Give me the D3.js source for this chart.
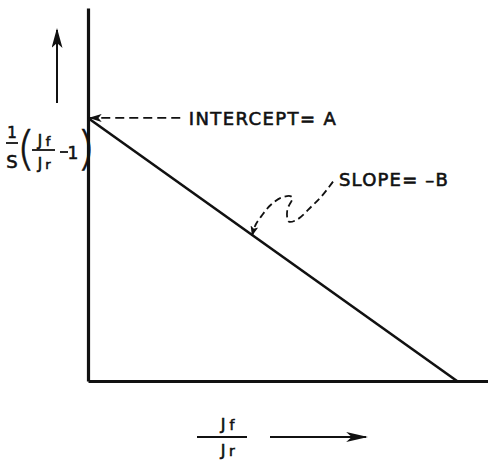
<!DOCTYPE html>
<html>
<head>
<meta charset="utf-8">
<script src="https://cdn.jsdelivr.net/npm/d3@7"></script>
<style>
  html, body { margin: 0; padding: 0; background: #fff; }
  svg { display: block; }
  text { font-family: "DejaVu Sans", sans-serif; fill: #111; stroke: #111; stroke-width: 0.6; }
</style>
</head>
<body>
<svg id="chart" width="488" height="461"></svg>
<script>
// Linear relation: (1/S)(Jf/Jr - 1) = A - B * (Jf/Jr)
const lineX = [0, 1];          // Jf/Jr (normalised)
const lineY = [1, 0];          // (1/S)(Jf/Jr - 1), normalised to the intercept A
const xDomain = [0, 1.084];
const yDomain = [0, 1.418];

// Wavy pointer from the slope label down to the line (data units)
const slopePointerX = [0.664, 0.633, 0.606, 0.567, 0.544, 0.540, 0.554, 0.548, 0.522, 0.495, 0.472, 0.454, 0.445];
const slopePointerY = [0.758, 0.702, 0.664, 0.614, 0.606, 0.650, 0.696, 0.703, 0.696, 0.669, 0.631, 0.593, 0.555];

const labels = { intercept: "INTERCEPT= A", slope: "SLOPE= \u2013B" };

const W = 488, H = 461;
const margin = { left: 88, right: 0, top: 8, bottom: 80 };

const svg = d3.select("#chart");
const x = d3.scaleLinear().domain(xDomain).range([margin.left, W - margin.right]);
const y = d3.scaleLinear().domain(yDomain).range([H - margin.bottom, margin.top]);

const defs = svg.append("defs");
function marker(id, len, wid) {
  defs.append("marker")
    .attr("id", id)
    .attr("viewBox", "0 0 10 10")
    .attr("refX", 9).attr("refY", 5)
    .attr("markerWidth", len).attr("markerHeight", wid)
    .attr("markerUnits", "userSpaceOnUse")
    .attr("orient", "auto")
    .attr("preserveAspectRatio", "none")
    .append("path").attr("d", "M0,0 L10,5 L0,10 L2.5,5 Z").attr("fill", "#111");
}
marker("headUp", 20, 11);
marker("headX", 22, 10);
marker("headInt", 13, 8);
marker("headSlope", 10, 8);

// Axes drawn as bare lines, no ticks
const xAxis = d3.axisBottom(x).tickValues([]).tickSizeOuter(0);
const yAxis = d3.axisLeft(y).tickValues([]).tickSizeOuter(0);
svg.append("g").attr("transform", `translate(0,${y(0)})`).call(xAxis)
  .select(".domain").attr("stroke", "#111").attr("stroke-width", 3.2);
svg.append("g").attr("transform", `translate(${x(0)},0)`).call(yAxis)
  .select(".domain").attr("stroke", "#111").attr("stroke-width", 3.2);

// The fitted line
const pts = lineX.map((d, i) => [d, lineY[i]]);
svg.append("path")
  .datum(pts)
  .attr("d", d3.line().x(d => x(d[0])).y(d => y(d[1])))
  .attr("fill", "none").attr("stroke", "#111").attr("stroke-width", 2.6);

// Intercept pointer
svg.append("line")
  .attr("x1", x(0.25)).attr("y1", y(lineY[0]))
  .attr("x2", x(0) + 2).attr("y2", y(lineY[0]))
  .attr("stroke", "#111").attr("stroke-width", 1.8)
  .attr("stroke-dasharray", "9,5")
  .attr("marker-end", "url(#headInt)");
svg.append("text")
  .attr("x", x(0.273)).attr("y", y(lineY[0]) + 7)
  .attr("font-size", 18).attr("letter-spacing", 1.4)
  .text(labels.intercept);

// Slope pointer
const sp = slopePointerX.map((d, i) => [d, slopePointerY[i]]);
svg.append("path")
  .datum(sp)
  .attr("d", d3.line().x(d => x(d[0])).y(d => y(d[1])).curve(d3.curveCatmullRom))
  .attr("fill", "none").attr("stroke", "#111").attr("stroke-width", 1.8)
  .attr("stroke-dasharray", "7,4")
  .attr("marker-end", "url(#headSlope)");
svg.append("text")
  .attr("x", x(0.68)).attr("y", y(0.742))
  .attr("font-size", 18).attr("letter-spacing", 1.2)
  .text(labels.slope);

// Y axis label: 1/S (Jf/Jr - 1)
const yl = svg.append("g");
yl.append("text").attr("x", 12).attr("y", 138).attr("font-size", 15).attr("text-anchor", "middle").text("1");
yl.append("line").attr("x1", 6).attr("x2", 18).attr("y1", 143).attr("y2", 143).attr("stroke", "#111").attr("stroke-width", 1.8);
yl.append("text").attr("x", 12).attr("y", 168).attr("font-size", 18).attr("text-anchor", "middle").text("S");
yl.append("text").attr("x", 17).attr("y", 164).attr("font-size", 46).attr("font-weight", 200).attr("stroke-width", 0.3).text("(");
yl.append("text").attr("x", 40).attr("y", 146).attr("font-size", 15).attr("text-anchor", "middle").text("J");
yl.append("text").attr("x", 48).attr("y", 146).attr("font-size", 13).attr("text-anchor", "middle").text("f");
yl.append("line").attr("x1", 32).attr("x2", 55).attr("y1", 150).attr("y2", 150).attr("stroke", "#111").attr("stroke-width", 1.8);
yl.append("text").attr("x", 40).attr("y", 169).attr("font-size", 15).attr("text-anchor", "middle").text("J");
yl.append("text").attr("x", 48).attr("y", 169).attr("font-size", 13).attr("text-anchor", "middle").text("r");
yl.append("line").attr("x1", 60).attr("x2", 68).attr("y1", 152).attr("y2", 152).attr("stroke", "#111").attr("stroke-width", 1.8);
yl.append("text").attr("x", 73).attr("y", 159).attr("font-size", 17).attr("text-anchor", "middle").text("1");
yl.append("text").attr("x", 77).attr("y", 164).attr("font-size", 46).attr("font-weight", 200).attr("stroke-width", 0.3).text(")");

// Up arrow beside the y label
svg.append("line").attr("x1", 57).attr("x2", 57).attr("y1", 103).attr("y2", 30)
  .attr("stroke", "#111").attr("stroke-width", 2).attr("marker-end", "url(#headUp)");

// X axis label: Jf/Jr with arrow
const xl = svg.append("g");
xl.append("text").attr("x", 223).attr("y", 430).attr("font-size", 16).attr("text-anchor", "middle").text("J");
xl.append("text").attr("x", 232).attr("y", 430).attr("font-size", 14).attr("text-anchor", "middle").text("f");
xl.append("line").attr("x1", 197).attr("x2", 247).attr("y1", 437).attr("y2", 437).attr("stroke", "#111").attr("stroke-width", 1.8);
xl.append("text").attr("x", 223).attr("y", 456).attr("font-size", 16).attr("text-anchor", "middle").text("J");
xl.append("text").attr("x", 232).attr("y", 456).attr("font-size", 14).attr("text-anchor", "middle").text("r");
svg.append("line").attr("x1", 270).attr("x2", 366).attr("y1", 437).attr("y2", 437)
  .attr("stroke", "#111").attr("stroke-width", 1.8).attr("marker-end", "url(#headX)");
</script>
</body>
</html>
